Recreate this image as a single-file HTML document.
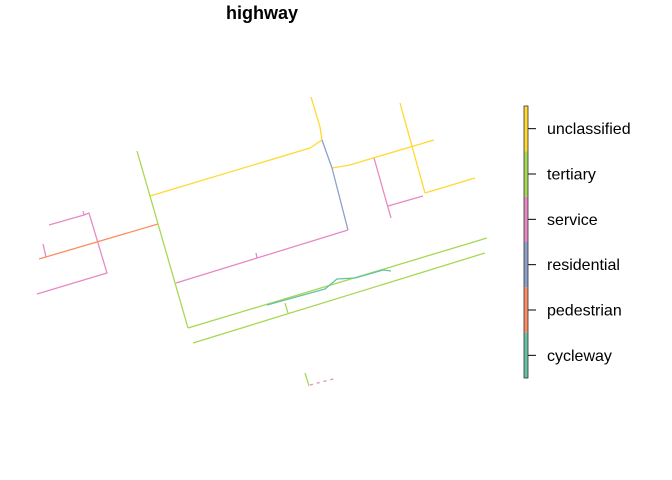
<!DOCTYPE html>
<html><head><meta charset="utf-8"><style>
body{margin:0;background:#fff;}
svg{display:block;font-family:"Liberation Sans",sans-serif;}
</style></head><body>
<svg width="672" height="480" viewBox="0 0 672 480">
<text x="262" y="19" text-anchor="middle" font-size="18" font-weight="bold">highway</text>
<g id="roads" fill="none" stroke-width="1.3" stroke-linejoin="round"></g>
<g id="legend"></g>
</svg>
<script>
const categories = ["cycleway","pedestrian","residential","service","tertiary","unclassified"];
const colors = ["#66C2A5","#FC8D62","#8DA0CB","#E78AC3","#A6D854","#FFD92F"];
const roadCats = ["unclassified","unclassified","unclassified","unclassified","unclassified","residential","service","service","service","service","service","service","service","pedestrian","tertiary","tertiary","tertiary","tertiary","tertiary","cycleway"];
const roadCoords = [
 [[311,97],[320,127],[322,140]],
 [[322,140],[310,148],[150,196]],
 [[332,168],[350,165],[373,158],[434,140]],
 [[400,103],[425,193]],
 [[425,193],[475,178]],
 [[322,140],[332,168],[348,230]],
 [[348,230],[176,283]],
 [[256,253],[257,258]],
 [[374,158],[391,218]],
 [[388,206],[423,196]],
 [[49,225],[84,215],[89,213],[107,273],[37,294]],
 [[83,211],[84,215]],
 [[43,244],[46,257]],
 [[39,259],[158,224]],
 [[137,151],[188,328]],
 [[188,328],[487,238]],
 [[193,343],[485,253]],
 [[285,303],[288,313]],
 [[305,373],[309,386]],
 [[267,305],[325,289],[337,279],[355,278],[383,270],[391,271]]
];
const NS="http://www.w3.org/2000/svg";
const roads=document.getElementById('roads');
roadCoords.forEach((pts,i)=>{
  const p=document.createElementNS(NS,'polyline');
  p.setAttribute('points',pts.map(q=>q.join(',')).join(' '));
  p.setAttribute('stroke',colors[categories.indexOf(roadCats[i])]);
  
  
  roads.appendChild(p);
});
const d=document.createElementNS(NS,'line');
d.setAttribute('x1',310);d.setAttribute('y1',385);d.setAttribute('x2',337);d.setAttribute('y2',378);
d.setAttribute('stroke','#E78AC3');d.setAttribute('stroke-dasharray','3,4');


roads.appendChild(d);
const lg=document.getElementById('legend');
const legTop=106, legBot=378, n=categories.length, h=(legBot-legTop)/n;
categories.forEach((c,i)=>{
  const y0=legBot-(i+1)*h;
  const r=document.createElementNS(NS,'rect');
  r.setAttribute('x',524);r.setAttribute('y',y0);r.setAttribute('width',4);r.setAttribute('height',h);
  r.setAttribute('fill',colors[i]);
  
  
  lg.appendChild(r);
  const yc=y0+h/2;
  const t=document.createElementNS(NS,'line');
  t.setAttribute('x1',528);t.setAttribute('x2',536);t.setAttribute('y1',yc);t.setAttribute('y2',yc);
  t.setAttribute('stroke','#000');
  
  
  lg.appendChild(t);
  const tx=document.createElementNS(NS,'text');
  tx.setAttribute('x',547);tx.setAttribute('y',yc+5.5);tx.setAttribute('font-size',16);
  tx.textContent=c;
  
  
  lg.appendChild(tx);
});
const b=document.createElementNS(NS,'rect');
b.setAttribute('x',524);b.setAttribute('y',legTop);b.setAttribute('width',4);b.setAttribute('height',legBot-legTop);
b.setAttribute('fill','none');b.setAttribute('stroke','#333');b.setAttribute('stroke-width',0.8);


lg.appendChild(b);
</script>
</body></html>
